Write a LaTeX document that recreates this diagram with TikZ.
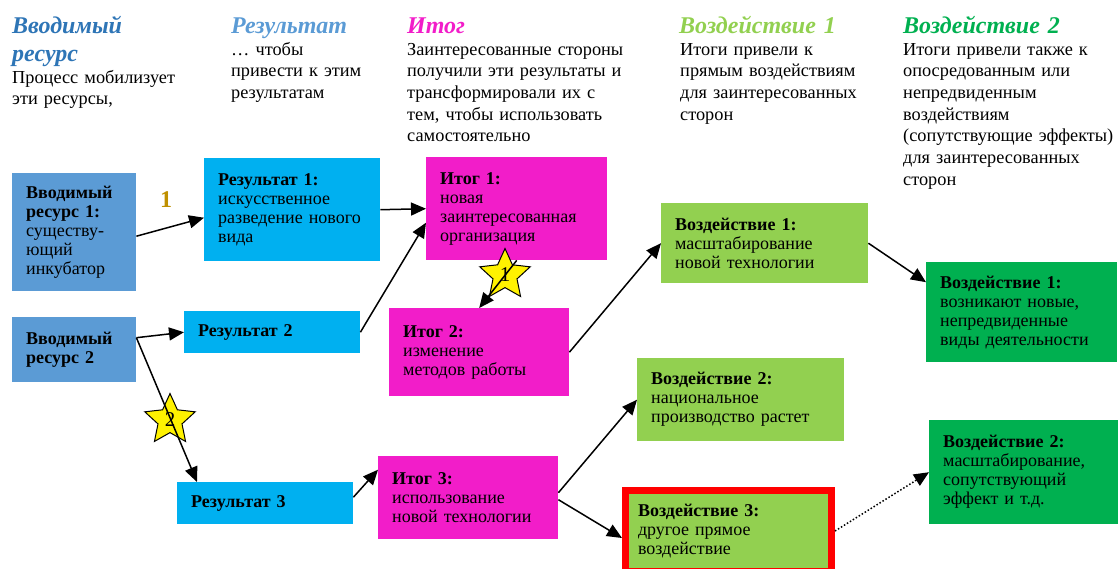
\documentclass[tikz,border=0pt]{standalone}
\usepackage{fontspec}
\setmainfont{Liberation Serif}
\usetikzlibrary{shapes.geometric,arrows.meta}
\definecolor{inblue}{HTML}{5B9BD5}
\definecolor{inhead}{HTML}{2E75B6}
\definecolor{resblue}{HTML}{00B0F0}
\definecolor{reshead}{HTML}{5B9BD5}
\definecolor{outpink}{HTML}{F21DC9}
\definecolor{implime}{HTML}{92D050}
\definecolor{impgreen}{HTML}{00B050}
\definecolor{gold}{HTML}{BF9000}
\begin{document}
\begin{tikzpicture}
[x=1pt, y=-1pt,
box/.style={rectangle, anchor=north west, inner xsep=14pt, inner ysep=0pt, align=left, font=\fontsize{18}{19}\selectfont},
input/.style={box, fill=inblue},
result/.style={box, fill=resblue},
outcome/.style={box, fill=outpink},
impact/.style={box, fill=implime},
sideimpact/.style={box, fill=impgreen},
head/.style={anchor=base west, inner sep=0pt, align=left, text width=240pt, font=\fontsize{24}{28.5}\selectfont\bfseries\itshape},
note/.style={anchor=base west, inner sep=0pt, align=left, text width=240pt, font=\fontsize{18.3}{21.7}\selectfont},
link/.style={-{Triangle[length=15pt,width=13pt]}, line width=1.5pt},
badge/.style={star, star points=5, star point ratio=2.1, minimum size=53pt, inner sep=0pt, fill=yellow, draw=black, line width=1pt, font=\fontsize{21}{21}\selectfont}]
\useasboundingbox (0,0) rectangle (1118,568);
\node[head, text=inhead] (hin) at (12,33) {Вводимый\\ресурс};
\node[note] (nin) at (12,83) {Процесс мобилизует\\эти ресурсы,};
\node[head, text=reshead] (hres) at (231,33) {Результат};
\node[note] (nres) at (231,55) {… чтобы\\привести к этим\\результатам};
\node[head, text=outpink] (hout) at (407,33) {Итог};
\node[note] (nout) at (407,55) {Заинтересованные стороны\\получили эти результаты и\\трансформировали их с\\тем, чтобы использовать\\самостоятельно};
\node[head, text=implime] (himp) at (679,33) {Воздействие 1};
\node[note] (nimp) at (680,55) {Итоги привели к\\прямым воздействиям\\для заинтересованных\\сторон};
\node[head, text=impgreen] (hside) at (903,33) {Воздействие 2};
\node[note] (nside) at (903,55) {Итоги привели также к\\опосредованным или\\непредвиденным\\воздействиям\\(сопутствующие эффекты)\\для заинтересованных\\сторон};
\node[input, minimum width=124pt, minimum height=118pt, text width=96pt] (in1) at (12,173) {\textbf{Вводимый}\\\textbf{ресурс 1:}\\существу-\\ющий\\инкубатор};
\node[input, minimum width=124pt, minimum height=65pt, text width=96pt] (in2) at (12,317) {\textbf{Вводимый}\\\textbf{ресурс 2}};
\node[result, minimum width=176pt, minimum height=103pt, text width=148pt] (res1) at (204,158) {\textbf{Результат 1:}\\искусственное\\разведение нового\\вида};
\node[result, minimum width=176pt, minimum height=42pt, text width=148pt] (res2) at (184,311) {\textbf{Результат 2}};
\node[result, minimum width=176pt, minimum height=42pt, text width=148pt] (res3) at (177,482) {\textbf{Результат 3}};
\node[outcome, minimum width=181pt, minimum height=103pt, text width=153pt] (out1) at (426,157) {\textbf{Итог 1:}\\новая\\заинтересованная\\организация};
\node[outcome, minimum width=180pt, minimum height=88pt, text width=152pt] (out2) at (389,308) {\textbf{Итог 2:}\\изменение\\методов работы};
\node[outcome, minimum width=180pt, minimum height=83pt, text width=152pt] (out3) at (378,456) {\textbf{Итог 3:}\\использование\\новой технологии};
\node[impact, minimum width=207pt, minimum height=80pt, text width=179pt] (imp1) at (661,203) {\textbf{Воздействие 1:}\\масштабирование\\новой технологии};
\node[impact, minimum width=207pt, minimum height=83pt, text width=179pt] (imp2) at (637,358) {\textbf{Воздействие 2:}\\национальное\\производство растет};
\node[impact, draw=red, line width=7pt, inner xsep=12.5pt, minimum width=206pt, minimum height=81pt, text width=181pt] (imp3) at (622,487) {\textbf{Воздействие 3:}\\другое прямое\\воздействие};
\node[sideimpact, minimum width=191pt, minimum height=100pt, text width=163pt] (side1) at (926,262) {\textbf{Воздействие 1:}\\возникают новые,\\непредвиденные\\виды деятельности};
\node[sideimpact, minimum width=189pt, minimum height=104pt, text width=161pt] (side2) at (929,420) {\textbf{Воздействие 2:}\\масштабирование,\\сопутствующий\\эффект и т.д.};
\node[font=\fontsize{24}{24}\selectfont\bfseries, text=gold] (one) at (166,200) {1};
\node[badge] (s1) at (505,275) {1};
\node[badge] (s2) at (170,420) {2};
\coordinate (in2out) at ([yshift=12pt]in2.east);
\draw[link] ([yshift=-4pt]in1.east) -- ([yshift=-8pt]res1.west);
\draw[link] (res1.east) -- (out1.west);
\draw[link] (res2.east) -- ([yshift=-14pt]out1.west);
\draw[link] (in2out) -- (res2.west);
\draw[link] (in2out) -- ([xshift=20pt]res3.north west);
\draw[link] ([yshift=6pt]res3.east) -- ([yshift=28pt]out3.west);
\draw[link] (out1.south) -- (out2.north);
\draw[link] (out2.east) -- (imp1.west);
\draw[link] (imp1.east) -- ([yshift=30pt]side1.west);
\draw[link] ([yshift=5pt]out3.east) -- (imp2.west);
\draw[link] ([yshift=-2pt]out3.east) -- ([yshift=-7pt]imp3.west);
\draw[link, dotted] (imp3.east) -- (side2.west);
\end{tikzpicture}
\end{document}
